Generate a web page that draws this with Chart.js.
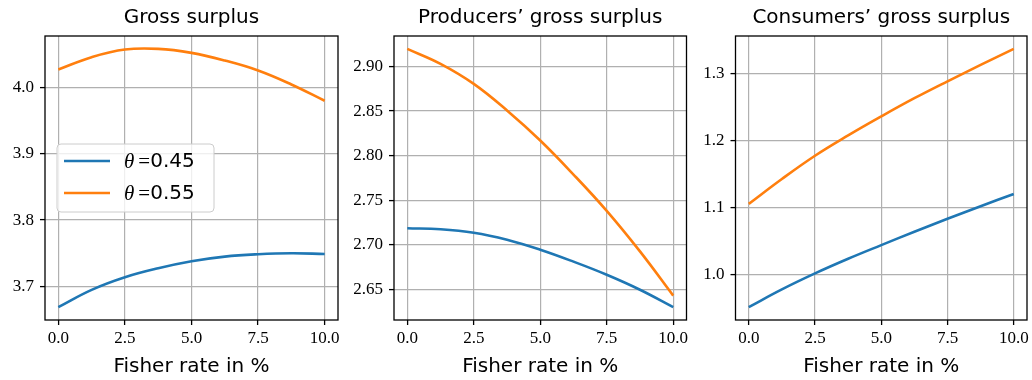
<!DOCTYPE html>
<html>
<head>
<meta charset="utf-8">
<script src="https://cdn.jsdelivr.net/npm/chart.js@4.4.1/dist/chart.umd.min.js"></script>
<style>
  html, body { margin: 0; padding: 0; background: #fff; }
  #wrap { position: relative; width: 1032px; height: 380px; }
  canvas { position: absolute; top: 0; }
</style>
</head>
<body>
<div id="wrap">
  <canvas id="gross" width="344" height="380" style="left:0"></canvas>
  <canvas id="producers" width="346" height="380" style="left:344px"></canvas>
  <canvas id="consumers" width="342" height="380" style="left:690px"></canvas>
</div>
<script>
// Fisher rate (%) on the x axis
const rates = [0, 1.25, 2.5, 3.75, 5, 6.25, 7.5, 8.75, 10];
const thetas = [0.45, 0.55];

// values, one list per theta
const grossLow = [3.669, 3.695, 3.714, 3.7275, 3.738, 3.745, 3.7485, 3.750, 3.749];
const grossHigh = [4.0265, 4.045, 4.0565, 4.0575, 4.0515, 4.040, 4.025, 4.004, 3.9795];
const producersLow = [2.7185, 2.7174, 2.7135, 2.7056, 2.6944, 2.681, 2.6663, 2.6495, 2.630];
const producersHigh = [2.9198, 2.903, 2.8805, 2.8507, 2.817, 2.7788, 2.738, 2.6925, 2.6429];
const consumersLow = [0.9519, 0.9782, 1.002, 1.0238, 1.0441, 1.064, 1.0833, 1.102, 1.1203];
const consumersHigh = [1.1055, 1.1426, 1.1772, 1.2074, 1.2357, 1.2628, 1.288, 1.3124, 1.3362];

// tick labels
const xTicks = [0, 2.5, 5, 7.5, 10];
const grossTicks = [3.7, 3.8, 3.9, 4.0];
const producersTicks = [2.65, 2.70, 2.75, 2.80, 2.85, 2.90];
const consumersTicks = [1.0, 1.1, 1.2, 1.3];

const colors = ['#1f77b4', '#ff7f0e'];
const tickFont = { family: '"Liberation Serif", serif', size: 17 };
const sansFont = '"DejaVu Sans", sans-serif';

// title centred over the plot area, like matplotlib does
const panelTitle = {
  id: 'panelTitle',
  afterDraw(chart, args, opts) {
    const { ctx, chartArea: a } = chart;
    ctx.save();
    ctx.font = '20px ' + sansFont;
    ctx.fillStyle = '#000';
    ctx.textAlign = 'center';
    ctx.textBaseline = 'alphabetic';
    ctx.fillText(opts.text, (a.left + a.right) / 2, 23);
    ctx.restore();
  }
};

// black box round the axes
const frame = {
  id: 'frame',
  afterDraw(chart) {
    const { ctx, chartArea: a } = chart;
    ctx.save();
    ctx.strokeStyle = '#000';
    ctx.lineWidth = 1.3;
    ctx.strokeRect(a.left, a.top, a.right - a.left, a.bottom - a.top);
    ctx.restore();
  }
};

// legend box at centre left inside the first panel
const boxLegend = {
  id: 'boxLegend',
  afterDraw(chart, args, opts) {
    if (!opts.show) return;
    const { ctx, chartArea: a } = chart;
    const w = 157, h = 68;
    const x = a.left + 12, y = (a.top + a.bottom) / 2 - h / 2;
    ctx.save();
    ctx.beginPath();
    ctx.roundRect(x, y, w, h, 4);
    ctx.fillStyle = 'rgba(255,255,255,0.8)';
    ctx.fill();
    ctx.strokeStyle = '#cccccc';
    ctx.lineWidth = 1;
    ctx.stroke();
    chart.data.datasets.forEach((ds, i) => {
      const ly = y + 17 + i * 32;
      ctx.beginPath();
      ctx.moveTo(x + 7, ly);
      ctx.lineTo(x + 53, ly);
      ctx.strokeStyle = ds.borderColor;
      ctx.lineWidth = 2.6;
      ctx.stroke();
      const [sym, val] = ds.label.split('=');
      ctx.fillStyle = '#000';
      ctx.textBaseline = 'middle';
      let tx = x + 67;
      ctx.font = 'italic 21px "Liberation Serif", serif';
      ctx.fillText(sym.trim(), tx, ly + 1);
      tx += ctx.measureText(sym.trim()).width + 4;
      ctx.font = '21px "Liberation Serif", serif';
      ctx.fillText('=', tx, ly + 1);
      tx += ctx.measureText('=').width;
      ctx.font = '20px ' + sansFont;
      ctx.fillText(val, tx, ly + 1);
    });
    ctx.restore();
  }
};

function makePanel(id, title, low, high, yTicks, decimals, yWidth, padRight, showLegend) {
  const all = low.concat(high);
  const lo = Math.min(...all), hi = Math.max(...all);
  const margin = (hi - lo) * 0.05;
  const grid = { color: '#b0b0b0', lineWidth: 1.2, tickLength: 5, tickColor: '#000', tickWidth: 1.3 };
  return new Chart(document.getElementById(id), {
    type: 'line',
    data: {
      datasets: [low, high].map((vals, i) => ({
        label: 'θ =' + thetas[i],
        data: rates.map((r, k) => ({ x: r, y: vals[k] })),
        borderColor: colors[i],
        backgroundColor: colors[i],
        borderWidth: 2.6,
        pointRadius: 0,
        fill: false,
        tension: 0.4
      }))
    },
    options: {
      responsive: false,
      animation: false,
      layout: { padding: { top: 36, right: padRight, bottom: 0, left: 0 } },
      plugins: {
        legend: { display: false },
        tooltip: { enabled: false },
        panelTitle: { text: title },
        boxLegend: { show: showLegend }
      },
      scales: {
        x: {
          type: 'linear',
          min: rates[0] - 0.5,
          max: rates[rates.length - 1] + 0.5,
          grid: grid,
          border: { display: false },
          afterBuildTicks: s => { s.ticks = xTicks.map(v => ({ value: v })); },
          afterFit: s => { s.height = 60; s.paddingLeft = 0; s.paddingRight = 0; },
          ticks: { font: tickFont, color: '#000', padding: 3, maxRotation: 0, callback: v => v.toFixed(1) },
          title: { display: true, text: 'Fisher rate in %', color: '#000', font: { family: sansFont, size: 20 }, padding: { top: 0, bottom: 1 } }
        },
        y: {
          type: 'linear',
          min: lo - margin,
          max: hi + margin,
          grid: grid,
          border: { display: false },
          afterBuildTicks: s => { s.ticks = yTicks.map(v => ({ value: v })); },
          afterFit: s => { s.width = yWidth; s.paddingTop = 0; s.paddingBottom = 0; },
          ticks: { font: tickFont, color: '#000', padding: 6, callback: v => v.toFixed(decimals) }
        }
      }
    },
    plugins: [panelTitle, frame, boxLegend]
  });
}

makePanel('gross', 'Gross surplus', grossLow, grossHigh, grossTicks, 1, 45, 6, true);
makePanel('producers', 'Producers’ gross surplus', producersLow, producersHigh, producersTicks, 2, 50, 3.5, false);
makePanel('consumers', 'Consumers’ gross surplus', consumersLow, consumersHigh, consumersTicks, 1, 45.5, 5, false);
</script>
</body>
</html>
